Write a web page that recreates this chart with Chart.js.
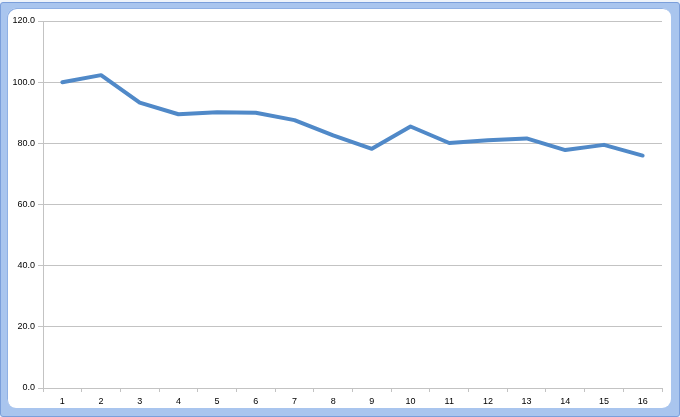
<html>
	<head>
		<script src="https://cdn.jsdelivr.net/npm/chart.js@4"></script>
		<style>
			body { margin: 0; background: #eef3fa; width: 680px; height: 417px; overflow: hidden; position: relative; }
			#frame { position: absolute; left: 0; top: 2px; width: 678px; height: 413px; background: #a9c5ee; border: 1px solid #7b9fdb; border-radius: 3px; }
			#inner { position: absolute; left: 7px; top: 8px; width: 664px; height: 400px; background: #ffffff; border-radius: 9px; box-shadow: inset 1px 1px 0 #8fb0e4; }
			#chartbox { position: absolute; left: 0; top: 0; width: 680px; height: 417px; }
		</style>
	</head>
	<body>
		<div id="frame"></div>
		<div id="inner"></div>
		<div id="chartbox"><canvas id="myChart" width="680" height="417"></canvas></div>
		<script>
			// categories and values
			var labels = ["1", "2", "3", "4", "5", "6", "7", "8", "9", "10", "11", "12", "13", "14", "15", "16"];
			var values = [100.0, 102.3, 93.3, 89.5, 90.2, 90.0, 87.6, 82.6, 78.2, 85.5, 80.1, 81.0, 81.6, 77.8, 79.5, 76.0];
			var yTicks = [0, 20, 40, 60, 80, 100, 120];

			var lineBlue = "#5089c8";
			var gridGrey = "#c3c3c3";

			var ctx = document.getElementById("myChart").getContext("2d");
			var myChart = new Chart(ctx, {
				type: "line",
				data: {
					labels: labels,
					datasets: [{
						data: values,
						borderColor: lineBlue,
						borderWidth: 4,
						pointRadius: 0,
						tension: 0,
						borderJoinStyle: "round",
						borderCapStyle: "round",
						fill: false
					}]
				},
				options: {
					responsive: false,
					animation: false,
					layout: { padding: { left: 0, right: 18, top: 21, bottom: 0 } },
					plugins: { legend: { display: false }, tooltip: { enabled: false } },
					scales: {
						x: {
							offset: true,
							grid: { offset: true, drawOnChartArea: false, drawTicks: true, tickLength: 4, color: gridGrey },
							border: { color: gridGrey },
							ticks: { color: "#000000", font: { family: "Liberation Sans", size: 9 }, padding: 4, maxRotation: 0 },
							afterFit: function(axis){ axis.height = 29; }
						},
						y: {
							min: 0,
							max: 120,
							afterBuildTicks: function(axis){ axis.ticks = yTicks.map(function(v){ return { value: v }; }); },
							grid: { color: gridGrey, tickLength: 5 },
							border: { color: gridGrey },
							ticks: {
								color: "#000000",
								font: { family: "Liberation Sans", size: 9 },
								padding: 3,
								callback: function(v){ return v.toFixed(1); }
							},
							afterFit: function(axis){ axis.width = 43; }
						}
					}
				}
			});
		</script>
	</body>
</html>
